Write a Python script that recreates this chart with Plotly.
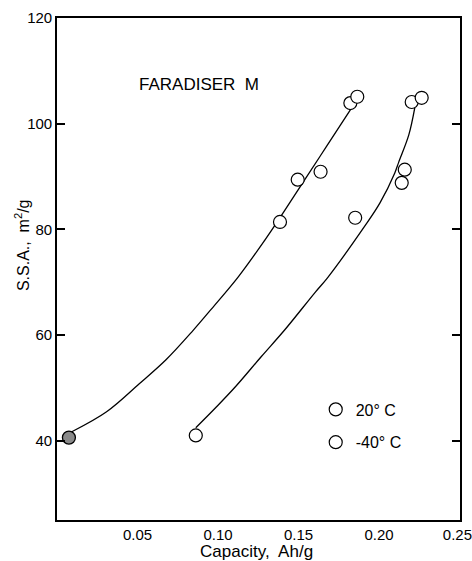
import plotly.graph_objects as go

# Measured points (Capacity Ah/g, S.S.A. m2/g)
cold_x = [0.0074, 0.1385, 0.1495, 0.1637, 0.1822, 0.1865]
cold_y = [40.6, 81.4, 89.4, 90.9, 103.9, 105.1]
warm_x = [0.0862, 0.1852, 0.2141, 0.2160, 0.2203, 0.2265]
warm_y = [41.0, 82.2, 88.8, 91.3, 104.1, 104.9]

# Hand-drawn fitted curves
cold_curve_x = [0.0092, 0.0308, 0.0511, 0.0677, 0.0843, 0.0960, 0.1126, 0.1292, 0.1372, 0.1538, 0.1680, 0.1822]
cold_curve_y = [41.70, 45.48, 50.78, 55.32, 60.80, 64.96, 71.02, 78.01, 81.61, 89.36, 95.98, 102.60]
warm_curve_x = [0.0862, 0.0985, 0.1108, 0.1268, 0.1415, 0.1606, 0.1680, 0.1908, 0.2006, 0.2098, 0.2123, 0.2185, 0.2222]
warm_curve_y = [42.46, 46.24, 50.21, 55.89, 61.00, 68.18, 70.83, 80.47, 85.01, 90.68, 92.77, 97.87, 102.98]

x_ticks = [0.05, 0.10, 0.15, 0.20, 0.25]
x_labels = ["0.05", "0.10", "0.15", "0.20", "0.25\u00a0"]
y_tick_start = 40
y_tick_step = 20

font = "Liberation Sans, Arial, sans-serif"
fig = go.Figure()

for cx, cy in ((cold_curve_x, cold_curve_y), (warm_curve_x, warm_curve_y)):
    fig.add_trace(go.Scatter(x=cx, y=cy, mode="lines",
                             line=dict(color="black", width=1.3, shape="spline", smoothing=1.0),
                             showlegend=False, hoverinfo="skip"))

# hatched (first) point of the -40 C series
fig.add_trace(go.Scatter(x=cold_x[:1], y=cold_y[:1], mode="markers", showlegend=False,
                         marker=dict(size=13, color="#8a8a8a",
                                     line=dict(color="black", width=1.3))))
fig.add_trace(go.Scatter(x=warm_x, y=warm_y, mode="markers", name="20° C",
                         legendgroup="a",
                         marker=dict(size=13, color="white",
                                     line=dict(color="black", width=1.2))))
fig.add_trace(go.Scatter(x=cold_x[1:], y=cold_y[1:], mode="markers", name="-40° C",
                         legendgroup="b",
                         marker=dict(size=13, color="white",
                                     line=dict(color="black", width=1.2))))

fig.update_layout(
    width=472, height=561,
    margin=dict(l=57, r=12, t=18, b=41),
    paper_bgcolor="white", plot_bgcolor="white",
    font=dict(family=font, size=15, color="black"),
    showlegend=True,
    legend=dict(x=0.642, y=0.254, xanchor="left", yanchor="top",
                bgcolor="rgba(0,0,0,0)", font=dict(size=16),
                itemwidth=30, tracegroupgap=9, traceorder="grouped"),
    xaxis=dict(range=[0, 0.2503], tickmode="array", tickvals=x_ticks, ticktext=x_labels,
               showline=True, linecolor="black", linewidth=1.6, mirror=True,
               ticks="", showgrid=False, zeroline=False, automargin=False,
               ticklabeloverflow="allow"),
    yaxis=dict(range=[25, 120], tickmode="linear", tick0=y_tick_start, dtick=y_tick_step,
               showline=True, linecolor="black", linewidth=1.6, mirror="allticks",
               ticks="inside", ticklen=8, tickwidth=1.5, tickcolor="#000000",
               automargin=False, showgrid=False, zeroline=False),
    annotations=[
        dict(text="FARADISER  M", x=0.353, y=0.867, xref="paper", yref="paper",
             xanchor="center", yanchor="middle", showarrow=False, font=dict(size=17)),
        dict(text="S.S.A.,  m<sup>2</sup>/g", x=-0.0864, y=0.548, xref="paper", yref="paper",
             xanchor="center", yanchor="middle", textangle=-90, showarrow=False,
             font=dict(size=16)),
        dict(text="Capacity,  Ah/g", x=0.494, y=-0.0637, xref="paper", yref="paper",
             xanchor="center", yanchor="middle", showarrow=False, font=dict(size=17)),
    ],
)

fig.write_html("out.html")
